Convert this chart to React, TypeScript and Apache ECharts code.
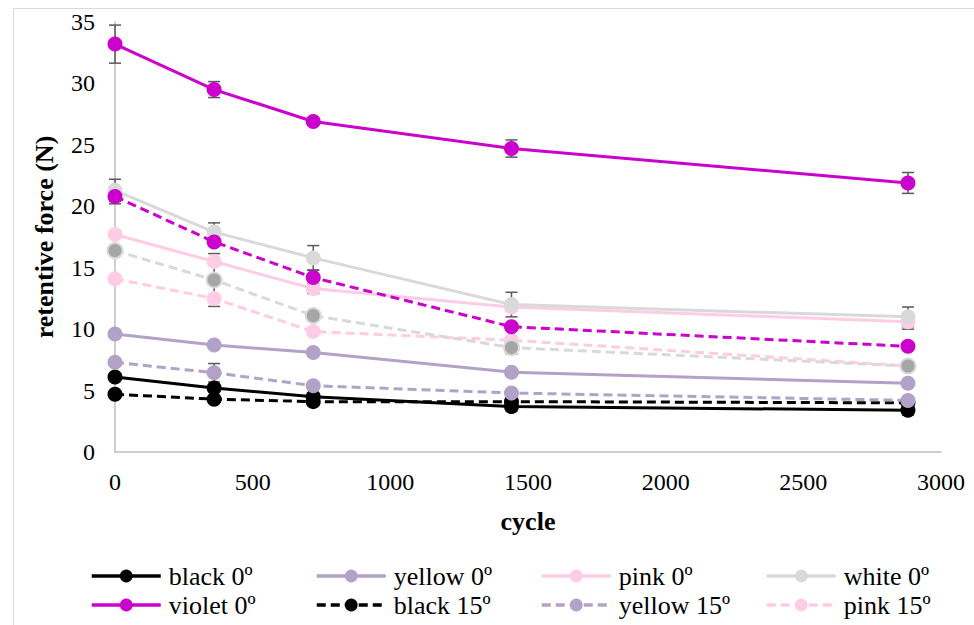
import React, { useEffect, useRef } from "react";
import * as echarts from "echarts";

const cycles = [0, 360, 720, 1440, 2880];

const seriesNames = [
  "black 0º",
  "yellow 0º",
  "pink 0º",
  "white 0º",
  "violet 0º",
  "black 15º",
  "yellow 15º",
  "pink 15º",
  "white 15º",
  "violet 15º",
];

const black0 = [6.1, 5.2, 4.5, 3.7, 3.4];
const yellow0 = [9.6, 8.7, 8.1, 6.5, 5.6];
const pink0 = [17.7, 15.5, 13.3, 11.8, 10.6];
const white0 = [21.3, 17.9, 15.8, 12.0, 11.0];
const violet0 = [33.2, 29.5, 26.9, 24.7, 21.9];
const black15 = [4.7, 4.3, 4.1, 4.1, 4.0];
const yellow15 = [7.3, 6.45, 5.4, 4.8, 4.2];
const pink15 = [14.1, 12.5, 9.8, 9.1, 7.0];
const white15 = [16.4, 14.0, 11.1, 8.5, 7.0];
const violet15 = [20.8, 17.1, 14.2, 10.2, 8.6];

// standard deviations (error bars), 0 = not visible
const black0Err = [0.3, 0.3, 0.3, 0.4, 0.4];
const yellow0Err = [0, 0, 0, 0, 0];
const pink0Err = [0.3, 0.3, 0.4, 0.3, 0.6];
const white0Err = [0.9, 0.75, 1.0, 1.0, 0.8];
const violet0Err = [1.55, 0.65, 0.3, 0.7, 0.85];
const black15Err = [0, 0, 0, 0, 0];
const yellow15Err = [0, 0.75, 0, 0, 0];
const pink15Err = [0, 0, 0, 0, 0];
const white15Err = [0.4, 2.15, 0.4, 0.5, 0.3];
const violet15Err = [0.6, 0.3, 0.6, 0, 0];

const values = [black0, yellow0, pink0, white0, violet0, black15, yellow15, pink15, white15, violet15];
const errors = [black0Err, yellow0Err, pink0Err, white0Err, violet0Err, black15Err, yellow15Err, pink15Err, white15Err, violet15Err];
const lineColors = ["#000000", "#b3a2c7", "#ffcce6", "#d9d9d9", "#cc00cc", "#000000", "#b3a2c7", "#ffcce6", "#d9d9d9", "#cc00cc"];
const markerColors = ["#000000", "#b3a2c7", "#ffcce6", "#d9d9d9", "#cc00cc", "#000000", "#b3a2c7", "#ffcce6", "#a6a6a6", "#cc00cc"];
const dashed = [false, false, false, false, false, true, true, true, true, true];

const legendNames = ["black 0º", "yellow 0º", "pink 0º", "white 0º", "violet 0º", "black 15º", "yellow 15º", "pink 15º"];

const FONT = "Liberation Serif";

export default function App() {
  const ref = useRef<HTMLDivElement>(null);
  useEffect(() => {
    if (!ref.current) return;
    const chart = echarts.init(ref.current, undefined, { renderer: "svg" });

    const lineSeries = seriesNames.map((name, i) => ({
      name,
      type: "line",
      data: cycles.map((c, j) => [c, values[i][j]]),
      symbol: "circle",
      symbolSize: 15,
      z: 3,
      lineStyle: {
        color: lineColors[i],
        width: 3,
        type: dashed[i] ? [9, 5] : "solid",
      },
      itemStyle: {
        color: markerColors[i],
        borderColor: lineColors[i],
        borderWidth: i === 8 ? 2 : 0,
      },
    }));

    const errSeries = seriesNames.map((name, i) => ({
      type: "custom",
      name: name + " err",
      silent: true,
      z: 2,
      encode: { x: 0, y: [1, 2] },
      data: cycles
        .map((c, j) => [c, values[i][j] - errors[i][j], values[i][j] + errors[i][j], errors[i][j]])
        .filter((d) => d[3] > 0),
      renderItem: (_params: any, api: any) => {
        const x = api.value(0);
        const top = api.coord([x, api.value(2)]);
        const bot = api.coord([x, api.value(1)]);
        const hw = 6;
        const st = { stroke: "#595959", lineWidth: 1.5 };
        return {
          type: "group",
          children: [
            { type: "line", shape: { x1: top[0], y1: top[1], x2: bot[0], y2: bot[1] }, style: st },
            { type: "line", shape: { x1: top[0] - hw, y1: top[1], x2: top[0] + hw, y2: top[1] }, style: st },
            { type: "line", shape: { x1: bot[0] - hw, y1: bot[1], x2: bot[0] + hw, y2: bot[1] }, style: st },
          ],
        };
      },
    }));

    const colLeft = [90, 315, 540, 765];
    const rowTop = [563, 592];
    const legends = legendNames.map((n, k) => ({
      data: [n],
      left: colLeft[k % 4],
      top: rowTop[Math.floor(k / 4)],
      itemWidth: 69,
      itemHeight: 16,
      padding: 0,
      lineStyle: { width: 3.5 },
      textStyle: {
        fontFamily: FONT,
        fontWeight: "normal",
        fontStyle: "normal",
        fontSize: 26,
        color: "#000",
        padding: [0, 0, 0, 3],
      },
    }));

    chart.setOption({
      animation: false,
      backgroundColor: "#ffffff",
      textStyle: { fontFamily: FONT },
      grid: { left: 115, right: 33, top: 22, bottom: 173, containLabel: false },
      xAxis: {
        type: "value",
        min: 0,
        max: 3000,
        interval: 500,
        name: "cycle",
        nameLocation: "middle",
        nameGap: 56,
        nameTextStyle: { fontFamily: FONT, fontSize: 26, fontWeight: "bold", color: "#000" },
        axisLine: { show: true, lineStyle: { color: "#bfbfbf", width: 1.5 } },
        axisTick: { show: false },
        splitLine: { show: false },
        axisLabel: {
          fontFamily: "Times New Roman, serif",
          fontSize: 24,
          color: "#000",
          margin: 18,
          formatter: (v: number) => String(v),
        },
      },
      yAxis: {
        type: "value",
        min: 0,
        max: 35,
        interval: 5,
        name: "retentive force (N)",
        nameLocation: "middle",
        nameGap: 58,
        nameTextStyle: { fontFamily: FONT, fontSize: 26, fontWeight: "bold", color: "#000" },
        axisLine: { show: true, lineStyle: { color: "#bfbfbf", width: 1.5 } },
        axisTick: { show: false },
        splitLine: { show: false },
        axisLabel: {
          fontFamily: "serif",
          fontSize: 24,
          color: "#000",
          margin: 20,
          formatter: (v: number) => String(v),
        },
      },
      legend: legends,
      graphic: [
        {
          type: "rect",
          shape: { x: 13.5, y: 8.5, width: 1000, height: 700 },
          style: { fill: "none", stroke: "#d9d9d9", lineWidth: 1 },
          silent: true,
          z: -1,
        },
      ],
      series: [...errSeries, ...lineSeries],
    });
    return () => chart.dispose();
  }, []);
  return (
    <div
      ref={ref}
      style={{ position: "absolute", left: 0, top: 0, width: 974, height: 625, background: "#fff" }}
    />
  );
}
